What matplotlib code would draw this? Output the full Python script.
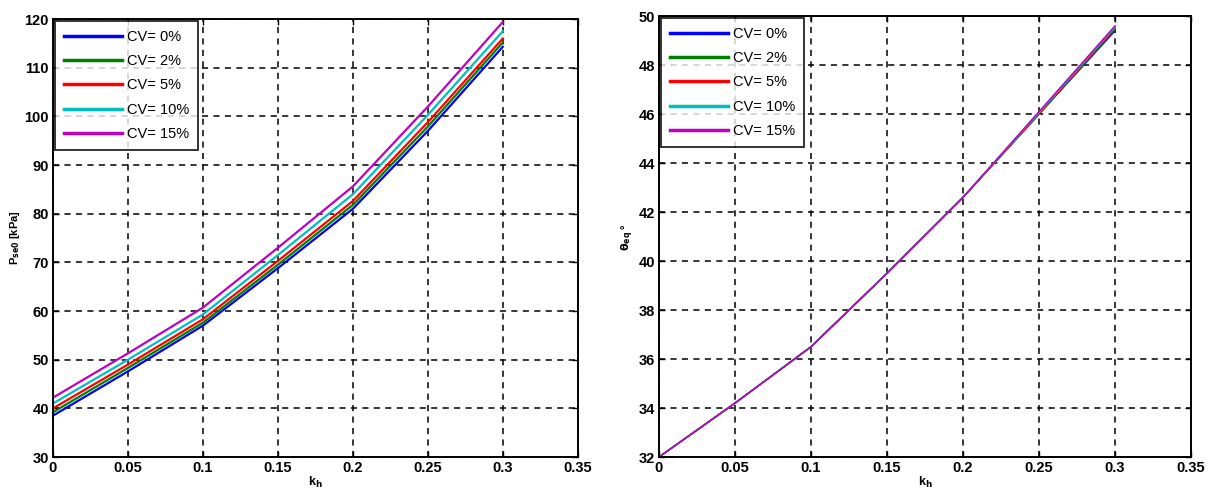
import matplotlib.pyplot as plt

plt.rcParams['font.family'] = ['Liberation Sans', 'DejaVu Sans']

kh = [0, 0.05, 0.1, 0.15, 0.2, 0.25, 0.3]
cv_labels = ['CV= 0%', 'CV= 2%', 'CV= 5%', 'CV= 10%', 'CV= 15%']
colors = ['#0000ff', '#008000', '#ff0000', '#00bfbf', '#bf00bf']

# left: p_se0 [kPa]
p_cv0 = [38.5, 47.6, 57.0, 68.8, 81.0, 97.0, 114.3]
p_cv2 = [39.2, 48.3, 57.6, 69.5, 81.8, 97.9, 115.2]
p_cv5 = [40.0, 49.0, 58.3, 70.3, 82.6, 98.8, 116.0]
p_cv10 = [41.0, 50.0, 59.3, 71.5, 84.0, 100.3, 117.5]
p_cv15 = [42.2, 51.3, 60.7, 73.0, 85.6, 102.0, 119.4]

# right: theta_eq [deg]
th_cv0 = [32.0, 34.2, 36.5, 39.5, 42.6, 46.0, 49.4]
th_cv2 = [32.0, 34.2, 36.5, 39.5, 42.6, 46.0, 49.45]
th_cv5 = [32.0, 34.2, 36.5, 39.5, 42.6, 46.0, 49.5]
th_cv10 = [32.0, 34.2, 36.5, 39.5, 42.6, 46.05, 49.55]
th_cv15 = [32.0, 34.2, 36.5, 39.5, 42.6, 46.1, 49.6]

xticks = [0, 0.05, 0.1, 0.15, 0.2, 0.25, 0.3, 0.35]
xticklabels = ['0', '0.05', '0.1', '0.15', '0.2', '0.25', '0.3', '0.35']


def style_axes(ax):
    ax.set_xlim(0, 0.35)
    ax.set_xticks(xticks)
    ax.set_xticklabels(xticklabels)
    ax.grid(True, color='black', linestyle=(0, (4, 3.5)), linewidth=1.1)
    ax.tick_params(direction='in', top=True, right=True, length=4, width=1,
                   labelsize=10.5, pad=3)
    for lab in ax.get_xticklabels() + ax.get_yticklabels():
        lab.set_fontweight('bold')
    for s in ax.spines.values():
        s.set_linewidth(1.4)
    ax.set_xlabel('k$_\\mathbf{h}$', fontsize=9, fontweight='bold', labelpad=0)
    leg = ax.legend(loc='upper left', fontsize=10.5, frameon=True, fancybox=False,
                    edgecolor='black', handlelength=4.0, labelspacing=0.7,
                    borderaxespad=0.15, handletextpad=0.3, borderpad=0.6)
    leg.get_frame().set_linewidth(1.4)
    for h in leg.get_lines():
        h.set_linewidth(2.5)


fig = plt.figure(figsize=(12.12, 4.91), dpi=100)
ax1 = fig.add_axes([0.0437, 0.0692, 0.433, 0.892])
ax2 = fig.add_axes([0.5437, 0.0692, 0.439, 0.898])

for ys, c, lab in zip([p_cv0, p_cv2, p_cv5, p_cv10, p_cv15], colors, cv_labels):
    ax1.plot(kh, ys, color=c, linewidth=1.6, label=lab)
ax1.set_ylim(30, 120)
ax1.set_yticks(range(30, 121, 10))
ax1.set_ylabel('P$_\\mathbf{se0}$ [kPa]', fontsize=8, fontweight='bold', labelpad=2)
style_axes(ax1)

for ys, c, lab in zip([th_cv0, th_cv2, th_cv5, th_cv10, th_cv15], colors, cv_labels):
    ax2.plot(kh, ys, color=c, linewidth=1.1, label=lab)
ax2.set_ylim(32, 50)
ax2.set_yticks(range(32, 51, 2))
ax2.set_ylabel('$\\mathbf{\\theta_{eq}}$ °', fontsize=8, fontweight='bold', labelpad=2)
style_axes(ax2)

fig.savefig('out.png', dpi=100)
